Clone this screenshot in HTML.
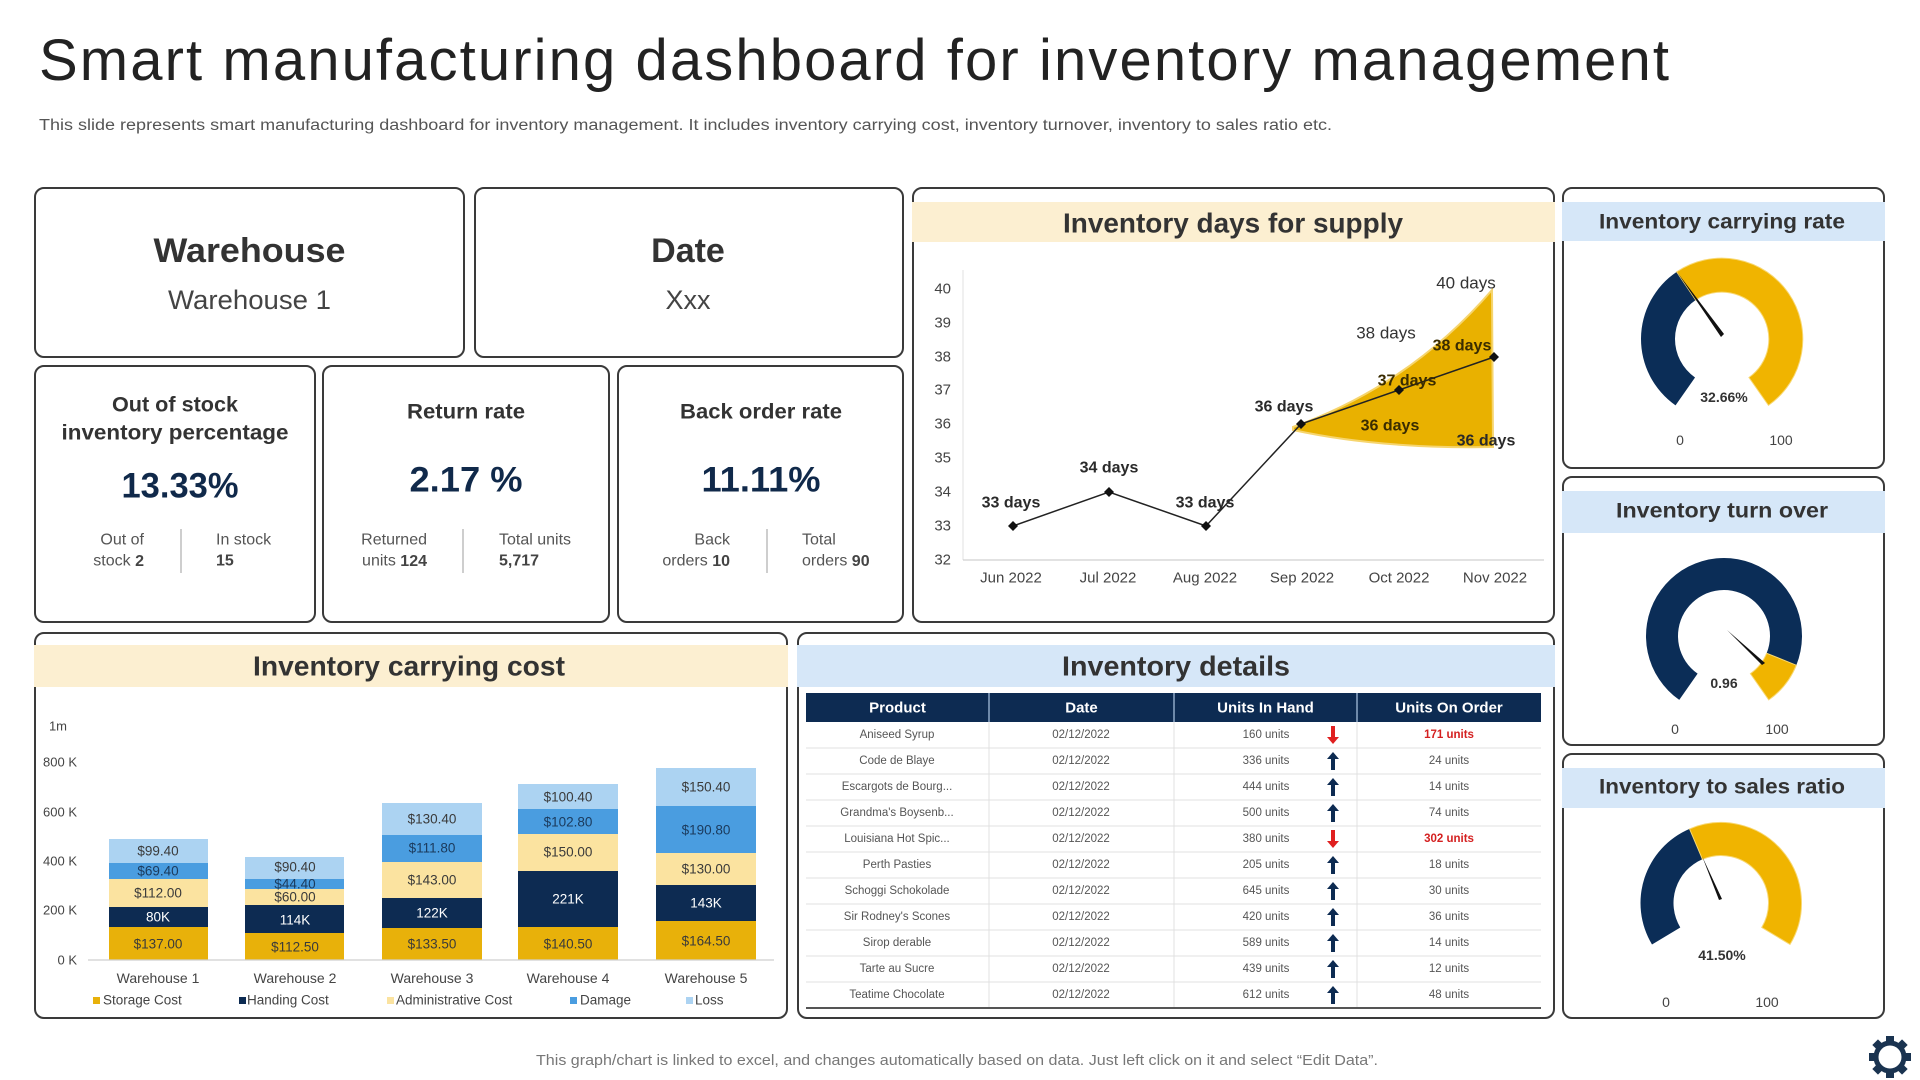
<!DOCTYPE html>
<html><head><meta charset="utf-8"><style>
html,body{margin:0;padding:0;background:#fff;}
svg{display:block;}
</style></head><body>
<svg width="1920" height="1080" viewBox="0 0 1920 1080" xmlns="http://www.w3.org/2000/svg" font-family="'Liberation Sans', Arial, sans-serif">
<rect width="1920" height="1080" fill="#fff"/>

<!-- Title -->
<text x="39" y="80" font-size="58" fill="#222" textLength="1630" lengthAdjust="spacing">Smart manufacturing dashboard for inventory management</text>
<text x="39" y="130" font-size="15.5" fill="#555" textLength="1293" lengthAdjust="spacingAndGlyphs">This slide represents smart manufacturing dashboard for inventory management. It includes inventory carrying cost, inventory turnover, inventory to sales ratio etc.</text>

<!-- Panels -->
<g fill="#fff" stroke="#3a3a3a" stroke-width="2">
<rect x="35" y="188" width="429" height="169" rx="9"/>
<rect x="475" y="188" width="428" height="169" rx="9"/>
<rect x="35" y="366" width="280" height="256" rx="9"/>
<rect x="323" y="366" width="286" height="256" rx="9"/>
<rect x="618" y="366" width="285" height="256" rx="9"/>
<rect x="913" y="188" width="641" height="434" rx="9"/>
<rect x="1563" y="188" width="321" height="280" rx="9"/>
<rect x="1563" y="477" width="321" height="268" rx="9"/>
<rect x="1563" y="754" width="321" height="264" rx="9"/>
<rect x="35" y="633" width="752" height="385" rx="9"/>
<rect x="798" y="633" width="756" height="385" rx="9"/>
</g>

<!-- Bands -->
<rect x="912" y="202" width="643" height="40" fill="#fcefd1"/>
<rect x="1562" y="202" width="323" height="39" fill="#d6e7f8"/>
<rect x="1562" y="491" width="323" height="42" fill="#d6e7f8"/>
<rect x="1562" y="768" width="323" height="40" fill="#d6e7f8"/>
<rect x="34" y="645" width="754" height="42" fill="#fcefd1"/>
<rect x="797" y="645" width="758" height="42" fill="#d6e7f8"/>

<g font-weight="bold" fill="#333" text-anchor="middle" dominant-baseline="central">
<text x="1233" y="223" font-size="28" textLength="340" lengthAdjust="spacingAndGlyphs">Inventory days for supply</text>
<text x="1722" y="222" font-size="21" textLength="246" lengthAdjust="spacingAndGlyphs">Inventory carrying rate</text>
<text x="1722" y="511" font-size="21" textLength="212" lengthAdjust="spacingAndGlyphs">Inventory turn over</text>
<text x="1722" y="787" font-size="21" textLength="246" lengthAdjust="spacingAndGlyphs">Inventory to sales ratio</text>
<text x="409" y="666" font-size="28" textLength="312" lengthAdjust="spacingAndGlyphs">Inventory carrying cost</text>
<text x="1176" y="666" font-size="28" textLength="228" lengthAdjust="spacingAndGlyphs">Inventory details</text>
</g>

<!-- Warehouse / Date -->
<g text-anchor="middle" dominant-baseline="central">
<text x="249.5" y="251" font-size="34" font-weight="bold" fill="#333" textLength="192" lengthAdjust="spacingAndGlyphs">Warehouse</text>
<text x="249.5" y="300" font-size="27" fill="#444" textLength="163" lengthAdjust="spacingAndGlyphs">Warehouse 1</text>
<text x="688" y="251" font-size="34" font-weight="bold" fill="#333">Date</text>
<text x="688" y="300" font-size="27" fill="#444">Xxx</text>
</g>

<!-- KPI boxes -->
<g text-anchor="middle" dominant-baseline="central" font-weight="bold" fill="#333">
<text x="175" y="405" font-size="21" textLength="126" lengthAdjust="spacingAndGlyphs">Out of stock</text>
<text x="175" y="433" font-size="21" textLength="227" lengthAdjust="spacingAndGlyphs">inventory percentage</text>
<text x="466" y="412" font-size="21" textLength="118" lengthAdjust="spacingAndGlyphs">Return rate</text>
<text x="761" y="412" font-size="21" textLength="162" lengthAdjust="spacingAndGlyphs">Back order rate</text>
<text x="180" y="486" font-size="35" fill="#10294a" textLength="117" lengthAdjust="spacingAndGlyphs">13.33%</text>
<text x="466" y="480" font-size="35" fill="#10294a" textLength="113" lengthAdjust="spacingAndGlyphs">2.17 %</text>
<text x="761" y="480" font-size="35" fill="#10294a" textLength="119" lengthAdjust="spacingAndGlyphs">11.11%</text>
</g>
<g font-size="16" fill="#555" dominant-baseline="central">
<text x="144" y="540" text-anchor="end">Out of</text>
<text x="144" y="561" text-anchor="end">stock <tspan font-weight="bold" fill="#444">2</tspan></text>
<text x="216" y="540">In stock</text>
<text x="216" y="561" font-weight="bold" fill="#444">15</text>
<text x="427" y="540" text-anchor="end">Returned</text>
<text x="427" y="561" text-anchor="end">units <tspan font-weight="bold" fill="#444">124</tspan></text>
<text x="499" y="540">Total units</text>
<text x="499" y="561" font-weight="bold" fill="#444">5,717</text>
<text x="730" y="540" text-anchor="end">Back</text>
<text x="730" y="561" text-anchor="end">orders <tspan font-weight="bold" fill="#444">10</tspan></text>
<text x="802" y="540">Total</text>
<text x="802" y="561">orders <tspan font-weight="bold" fill="#444">90</tspan></text>
</g>
<g stroke="#bdbdbd" stroke-width="1.5">
<line x1="181" y1="529" x2="181" y2="573"/>
<line x1="463" y1="529" x2="463" y2="573"/>
<line x1="767" y1="529" x2="767" y2="573"/>
</g>

<!-- Inventory days for supply chart -->
<line x1="963" y1="270" x2="963" y2="560" stroke="#e2e2e2" stroke-width="1"/>
<line x1="963" y1="560" x2="1544" y2="560" stroke="#d0d0d0" stroke-width="1.2"/>
<g font-size="15" fill="#444" text-anchor="end" dominant-baseline="central">
<text x="951" y="289">40</text>
<text x="951" y="323">39</text>
<text x="951" y="357">38</text>
<text x="951" y="390">37</text>
<text x="951" y="424">36</text>
<text x="951" y="458">35</text>
<text x="951" y="492">34</text>
<text x="951" y="526">33</text>
<text x="951" y="560">32</text>
</g>
<g font-size="15" fill="#444" text-anchor="middle" dominant-baseline="central">
<text x="1011" y="578">Jun 2022</text>
<text x="1108" y="578">Jul 2022</text>
<text x="1205" y="578">Aug 2022</text>
<text x="1302" y="578">Sep 2022</text>
<text x="1399" y="578">Oct 2022</text>
<text x="1495" y="578">Nov 2022</text>
</g>
<path d="M1293,427 Q1410,385 1492,290 L1493,447 Q1380,449 1293,430 Z" fill="#e9b100" stroke="#f6d56e" stroke-width="2"/>
<polyline points="1013,526 1109,492 1206,526 1301,424 1399,390 1494,357" fill="none" stroke="#222" stroke-width="1.5"/>
<g fill="#111">
<polygon points="1013,521 1018,526 1013,531 1008,526"/>
<polygon points="1109,487 1114,492 1109,497 1104,492"/>
<polygon points="1206,521 1211,526 1206,531 1201,526"/>
<polygon points="1301,419 1306,424 1301,429 1296,424"/>
<polygon points="1399,385 1404,390 1399,395 1394,390"/>
<polygon points="1494,352 1499,357 1494,362 1489,357"/>
</g>
<g font-size="16" font-weight="bold" fill="#2a2a2a" text-anchor="middle" dominant-baseline="central">
<text x="1011" y="503">33 days</text>
<text x="1109" y="468">34 days</text>
<text x="1205" y="503">33 days</text>
<text x="1284" y="407">36 days</text>
<text x="1407" y="381" fill="#3a2c00">37 days</text>
<text x="1462" y="346" fill="#3a2c00">38 days</text>
<text x="1390" y="426" fill="#3a2c00">36 days</text>
<text x="1486" y="441">36 days</text>
</g>
<g font-size="17" fill="#333" text-anchor="middle" dominant-baseline="central">
<text x="1386" y="333">38 days</text>
<text x="1466" y="283">40 days</text>
</g>

<!-- Gauges -->
<!-- G1 -->
<path d="M1675.54,405.35 A81,81 0 0 1 1676.71,271.85 L1695.72,300.04 A47,47 0 0 0 1695.04,377.50 Z" fill="#0b2d57"/>
<path d="M1676.71,271.85 A81,81 0 0 1 1768.46,405.35 L1748.96,377.50 A47,47 0 0 0 1695.72,300.04 Z" fill="#f0b400" stroke="#f8d873" stroke-width="1"/>
<polygon points="1677,272 1724,334 1721,337" fill="#111"/>
<g text-anchor="middle" dominant-baseline="central">
<text x="1724" y="397" font-size="14" font-weight="bold" fill="#333">32.66%</text>
<text x="1680" y="440" font-size="14" fill="#444">0</text>
<text x="1781" y="440" font-size="14" fill="#444">100</text>
</g>
<!-- G2 -->
<path d="M1679.26,699.90 A78,78 0 1 1 1796.32,665.22 L1766.65,653.23 A46,46 0 1 0 1697.61,673.68 Z" fill="#0b2d57"/>
<path d="M1796.32,665.22 A78,78 0 0 1 1768.74,699.90 L1750.39,673.68 A46,46 0 0 0 1766.65,653.23 Z" fill="#f0b400" stroke="#f8d873" stroke-width="1"/>
<polygon points="1727,630 1765,663 1762,665" fill="#111"/>
<g text-anchor="middle" dominant-baseline="central">
<text x="1724" y="683" font-size="14" font-weight="bold" fill="#333">0.96</text>
<text x="1675" y="729" font-size="14" fill="#444">0</text>
<text x="1777" y="729" font-size="14" fill="#444">100</text>
</g>
<!-- G3 -->
<path d="M1652.00,944.46 A80.5,80.5 0 0 1 1689.55,828.90 L1702.44,859.28 A47.5,47.5 0 0 0 1680.28,927.46 Z" fill="#0b2d57"/>
<path d="M1689.55,828.90 A80.5,80.5 0 0 1 1790.00,944.46 L1761.72,927.46 A47.5,47.5 0 0 0 1702.44,859.28 Z" fill="#f0b400" stroke="#f8d873" stroke-width="1"/>
<polygon points="1702,856 1722,899 1719,900" fill="#111"/>
<g text-anchor="middle" dominant-baseline="central">
<text x="1722" y="955" font-size="14" font-weight="bold" fill="#333">41.50%</text>
<text x="1666" y="1002" font-size="14" fill="#444">0</text>
<text x="1767" y="1002" font-size="14" fill="#444">100</text>
</g>

<!-- Inventory carrying cost chart -->
<g font-size="13" fill="#444" text-anchor="end" dominant-baseline="central">
<text x="67" y="726">1m</text>
<text x="77" y="762">800 K</text>
<text x="77" y="812">600 K</text>
<text x="77" y="861">400 K</text>
<text x="77" y="910">200 K</text>
<text x="77" y="960">0 K</text>
</g>
<!-- bars: storage, handling, admin, damage, loss -->
<g>
<rect x="109" y="927" width="99" height="33" fill="#e8b10a"/>
<rect x="109" y="907" width="99" height="20" fill="#0d2b52"/>
<rect x="109" y="879" width="99" height="28" fill="#fbe3a0"/>
<rect x="109" y="863" width="99" height="16" fill="#4a9de0"/>
<rect x="109" y="839" width="99" height="24" fill="#acd3f2"/>

<rect x="245" y="933" width="99" height="27" fill="#e8b10a"/>
<rect x="245" y="905" width="99" height="28" fill="#0d2b52"/>
<rect x="245" y="889" width="99" height="16" fill="#fbe3a0"/>
<rect x="245" y="879" width="99" height="10" fill="#4a9de0"/>
<rect x="245" y="857" width="99" height="22" fill="#acd3f2"/>

<rect x="382" y="928" width="100" height="32" fill="#e8b10a"/>
<rect x="382" y="898" width="100" height="30" fill="#0d2b52"/>
<rect x="382" y="862" width="100" height="36" fill="#fbe3a0"/>
<rect x="382" y="835" width="100" height="27" fill="#4a9de0"/>
<rect x="382" y="803" width="100" height="32" fill="#acd3f2"/>

<rect x="518" y="927" width="100" height="33" fill="#e8b10a"/>
<rect x="518" y="871" width="100" height="56" fill="#0d2b52"/>
<rect x="518" y="834" width="100" height="37" fill="#fbe3a0"/>
<rect x="518" y="809" width="100" height="25" fill="#4a9de0"/>
<rect x="518" y="784" width="100" height="25" fill="#acd3f2"/>

<rect x="656" y="921" width="100" height="39" fill="#e8b10a"/>
<rect x="656" y="885" width="100" height="36" fill="#0d2b52"/>
<rect x="656" y="853" width="100" height="32" fill="#fbe3a0"/>
<rect x="656" y="806" width="100" height="47" fill="#4a9de0"/>
<rect x="656" y="768" width="100" height="38" fill="#acd3f2"/>
</g>
<line x1="88" y1="960" x2="774" y2="960" stroke="#cfcfcf" stroke-width="1.2"/>
<g font-size="13.5" fill="#3a3a3a" text-anchor="middle" dominant-baseline="central">
<text x="158" y="944">$137.00</text><text x="158" y="917" fill="#fff">80K</text><text x="158" y="893">$112.00</text><text x="158" y="871" fill="#1b3a5c">$69.40</text><text x="158" y="851">$99.40</text>
<text x="295" y="947">$112.50</text><text x="295" y="920" fill="#fff">114K</text><text x="295" y="897">$60.00</text><text x="295" y="884" fill="#1b3a5c">$44.40</text><text x="295" y="867">$90.40</text>
<text x="432" y="944">$133.50</text><text x="432" y="913" fill="#fff">122K</text><text x="432" y="880">$143.00</text><text x="432" y="848" fill="#1b3a5c">$111.80</text><text x="432" y="819">$130.40</text>
<text x="568" y="944">$140.50</text><text x="568" y="899" fill="#fff">221K</text><text x="568" y="852">$150.00</text><text x="568" y="822" fill="#1b3a5c">$102.80</text><text x="568" y="797">$100.40</text>
<text x="706" y="941">$164.50</text><text x="706" y="903" fill="#fff">143K</text><text x="706" y="869">$130.00</text><text x="706" y="830" fill="#1b3a5c">$190.80</text><text x="706" y="787">$150.40</text>
</g>
<g font-size="14" fill="#444" text-anchor="middle" dominant-baseline="central">
<text x="158" y="978">Warehouse 1</text>
<text x="295" y="978">Warehouse 2</text>
<text x="432" y="978">Warehouse 3</text>
<text x="568" y="978">Warehouse 4</text>
<text x="706" y="978">Warehouse 5</text>
</g>
<g font-size="13.5" fill="#444" dominant-baseline="central">
<rect x="93" y="997" width="7" height="7" fill="#e8b10a"/><text x="103" y="1000">Storage Cost</text>
<rect x="239" y="997" width="7" height="7" fill="#0d2b52"/><text x="247" y="1000">Handing Cost</text>
<rect x="387" y="997" width="7" height="7" fill="#fbe3a0"/><text x="396" y="1000">Administrative Cost</text>
<rect x="570" y="997" width="7" height="7" fill="#4a9de0"/><text x="580" y="1000">Damage</text>
<rect x="686" y="997" width="7" height="7" fill="#acd3f2"/><text x="695" y="1000">Loss</text>
</g>

<!-- Inventory details table -->
<rect x="806" y="693" width="735" height="29" fill="#0d2b52"/>
<g stroke="#8fa9c8" stroke-width="1.5">
<line x1="989" y1="693" x2="989" y2="722"/><line x1="1174" y1="693" x2="1174" y2="722"/><line x1="1357" y1="693" x2="1357" y2="722"/>
</g>
<g font-size="15" font-weight="bold" fill="#fff" text-anchor="middle" dominant-baseline="central">
<text x="897.5" y="708">Product</text>
<text x="1081.5" y="708">Date</text>
<text x="1265.5" y="708">Units In Hand</text>
<text x="1449" y="708">Units On Order</text>
</g>
<g stroke="#e0e0e0" stroke-width="1">
<line x1="989" y1="722" x2="989" y2="1008"/><line x1="1174" y1="722" x2="1174" y2="1008"/><line x1="1357" y1="722" x2="1357" y2="1008"/>
<line x1="806" y1="748" x2="1541" y2="748"/><line x1="806" y1="774" x2="1541" y2="774"/><line x1="806" y1="800" x2="1541" y2="800"/>
<line x1="806" y1="826" x2="1541" y2="826"/><line x1="806" y1="852" x2="1541" y2="852"/><line x1="806" y1="878" x2="1541" y2="878"/>
<line x1="806" y1="904" x2="1541" y2="904"/><line x1="806" y1="930" x2="1541" y2="930"/><line x1="806" y1="956" x2="1541" y2="956"/>
<line x1="806" y1="982" x2="1541" y2="982"/>
</g>
<line x1="806" y1="1008" x2="1541" y2="1008" stroke="#555" stroke-width="2"/>
<g font-size="11.5" fill="#555" text-anchor="middle" dominant-baseline="central">
<text x="897" y="735">Aniseed Syrup</text><text x="1081" y="735">02/12/2022</text><text x="1266" y="735">160 units</text><text x="1449" y="735" fill="#d42020" font-weight="bold">171 units</text>
<text x="897" y="761">Code de Blaye</text><text x="1081" y="761">02/12/2022</text><text x="1266" y="761">336 units</text><text x="1449" y="761">24 units</text>
<text x="897" y="787">Escargots de Bourg...</text><text x="1081" y="787">02/12/2022</text><text x="1266" y="787">444 units</text><text x="1449" y="787">14 units</text>
<text x="897" y="813">Grandma's Boysenb...</text><text x="1081" y="813">02/12/2022</text><text x="1266" y="813">500 units</text><text x="1449" y="813">74 units</text>
<text x="897" y="839">Louisiana Hot Spic...</text><text x="1081" y="839">02/12/2022</text><text x="1266" y="839">380 units</text><text x="1449" y="839" fill="#d42020" font-weight="bold">302 units</text>
<text x="897" y="865">Perth Pasties</text><text x="1081" y="865">02/12/2022</text><text x="1266" y="865">205 units</text><text x="1449" y="865">18 units</text>
<text x="897" y="891">Schoggi Schokolade</text><text x="1081" y="891">02/12/2022</text><text x="1266" y="891">645 units</text><text x="1449" y="891">30 units</text>
<text x="897" y="917">Sir Rodney's Scones</text><text x="1081" y="917">02/12/2022</text><text x="1266" y="917">420 units</text><text x="1449" y="917">36 units</text>
<text x="897" y="943">Sirop derable</text><text x="1081" y="943">02/12/2022</text><text x="1266" y="943">589 units</text><text x="1449" y="943">14 units</text>
<text x="897" y="969">Tarte au Sucre</text><text x="1081" y="969">02/12/2022</text><text x="1266" y="969">439 units</text><text x="1449" y="969">12 units</text>
<text x="897" y="995">Teatime Chocolate</text><text x="1081" y="995">02/12/2022</text><text x="1266" y="995">612 units</text><text x="1449" y="995">48 units</text>
</g>
<!-- arrows -->
<g fill="#e02020">
<polygon points="1333,744 1339,737 1335,737 1335,726 1331,726 1331,737 1327,737"/>
<polygon points="1333,848 1339,841 1335,841 1335,830 1331,830 1331,841 1327,841"/>
</g>
<g fill="#0d2b52">
<polygon points="1333,752 1339,759 1335,759 1335,770 1331,770 1331,759 1327,759"/>
<polygon points="1333,778 1339,785 1335,785 1335,796 1331,796 1331,785 1327,785"/>
<polygon points="1333,804 1339,811 1335,811 1335,822 1331,822 1331,811 1327,811"/>
<polygon points="1333,856 1339,863 1335,863 1335,874 1331,874 1331,863 1327,863"/>
<polygon points="1333,882 1339,889 1335,889 1335,900 1331,900 1331,889 1327,889"/>
<polygon points="1333,908 1339,915 1335,915 1335,926 1331,926 1331,915 1327,915"/>
<polygon points="1333,934 1339,941 1335,941 1335,952 1331,952 1331,941 1327,941"/>
<polygon points="1333,960 1339,967 1335,967 1335,978 1331,978 1331,967 1327,967"/>
<polygon points="1333,986 1339,993 1335,993 1335,1004 1331,1004 1331,993 1327,993"/>
</g>

<!-- Footer -->
<text x="536" y="1065" font-size="14.5" fill="#777" textLength="842" lengthAdjust="spacingAndGlyphs">This graph/chart is linked to excel, and changes automatically based on data. Just left click on it and select “Edit Data”.</text>

<!-- Gear icon -->
<g transform="translate(1890,1057)" fill="#1a3350">
<circle r="14" fill="none" stroke="#1a3350" stroke-width="5"/>
<rect x="-4" y="-21" width="8" height="8"/>
<rect x="-4" y="13" width="8" height="8"/>
<rect x="-21" y="-4" width="8" height="8"/>
<rect x="13" y="-4" width="8" height="8"/>
<rect x="-4" y="-21" width="8" height="8" transform="rotate(45)"/>
<rect x="-4" y="13" width="8" height="8" transform="rotate(45)"/>
<rect x="-21" y="-4" width="8" height="8" transform="rotate(45)"/>
<rect x="13" y="-4" width="8" height="8" transform="rotate(45)"/>
</g>
</svg>
</body></html>
